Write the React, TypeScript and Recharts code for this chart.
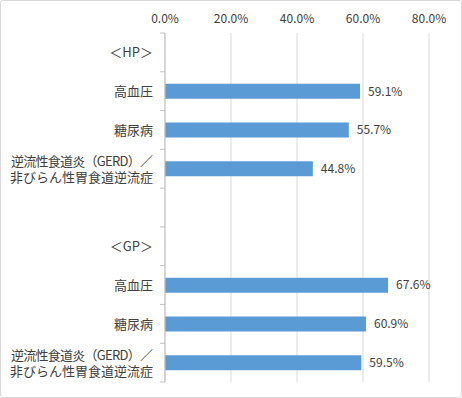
import { BarChart, Bar, XAxis, YAxis, CartesianGrid, LabelList } from "recharts";

const categories = [
    "＜HP＞",
    "高血圧",
    "糖尿病",
    "逆流性食道炎（GERD）／\n非びらん性胃食道逆流症",
    "",
    "＜GP＞",
    "高血圧",
    "糖尿病",
    "逆流性食道炎（GERD）／\n非びらん性胃食道逆流症",
];
const values: (number | null)[] = [null, 59.1, 55.7, 44.8, null, null, 67.6, 60.9, 59.5];
const xTicks = [0, 20, 40, 60, 80];

const data = categories.map((name, i) => ({ name, value: values[i] }));

const W = 462;
const H = 398;
const MARGIN = { top: 0, right: 33, bottom: 16, left: 0 };
const X_AXIS_H = 33;
const BAND = (H - MARGIN.top - MARGIN.bottom - X_AXIS_H) / categories.length;
const FONT = "'Noto Sans CJK JP', 'Noto Sans', sans-serif";

function CategoryTick(props: any) {
    const { x, y, payload, index } = props;
    const lines = String(payload.value).split("\n");
    const lx = x + 12;
    return (
        <g>
            {index === 0 && <line x1={lx - 5} x2={lx} y1={y - BAND / 2} y2={y - BAND / 2} stroke="#bfbfbf" />}
            <line x1={lx - 5} x2={lx} y1={y + BAND / 2} y2={y + BAND / 2} stroke="#bfbfbf" />
            {lines.map((line, i) => (
                <text
                    key={i}
                    x={x}
                    y={y + (lines.length > 1 ? -3 + i * 16 : 5)}
                    textAnchor="end"
                    fontSize={13}
                    fill="#404040"
                    fontFamily={FONT}
                    textLength={lines.length > 1 && i === 0 ? 142 : undefined}
                    lengthAdjust="spacing"
                >
                    {line}
                </text>
            ))}
        </g>
    );
}

export default function App() {
    return (
        <div
            style={{
                position: "absolute",
                left: 0,
                top: 0,
                width: W,
                height: H,
                boxSizing: "border-box",
                border: "1px solid #d9d9d9",
                borderRadius: 3,
                background: "#fff",
            }}
        >
            <div style={{ position: "absolute", left: -1, top: -1 }}>
                <BarChart width={W} height={H} data={data} layout="vertical" margin={MARGIN}>
                    <CartesianGrid horizontal={false} vertical={true} stroke="#d9d9d9" />
                    <XAxis
                        type="number"
                        orientation="top"
                        domain={[0, 80]}
                        ticks={xTicks}
                        height={X_AXIS_H}
                        axisLine={false}
                        tickLine={false}
                        tickSize={6}
                        tickMargin={4}
                        tickFormatter={(v: number) => v.toFixed(1) + "%"}
                        tick={{ fontSize: 12, fill: "#404040", fontFamily: FONT }}
                    />
                    <YAxis
                        type="category"
                        dataKey="name"
                        width={165}
                        axisLine={{ stroke: "#bfbfbf" }}
                        tickLine={false}
                        tickSize={0}
                        tickMargin={12}
                        interval={0}
                        tick={<CategoryTick />}
                    />
                    <Bar dataKey="value" fill="#5b9bd5" barSize={15} isAnimationActive={false}>
                        <LabelList
                            dataKey="value"
                            position="right"
                            offset={8}
                            fontSize={12}
                            fill="#404040"
                            fontFamily={FONT}
                            formatter={(v: any) => (v == null ? "" : Number(v).toFixed(1) + "%")}
                        />
                    </Bar>
                </BarChart>
            </div>
        </div>
    );
}
